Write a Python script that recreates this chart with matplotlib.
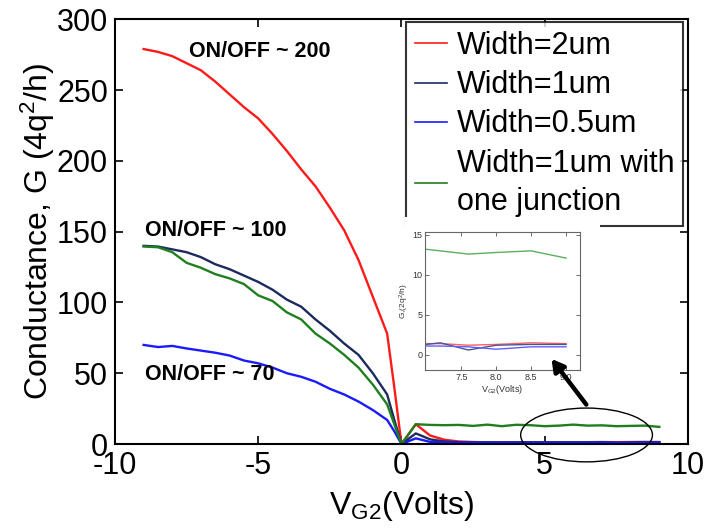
import numpy as np
import matplotlib.pyplot as plt
from matplotlib.patches import Ellipse, FancyArrowPatch

plt.rcParams['font.family'] = ['Liberation Sans', 'DejaVu Sans']
plt.rcParams['mathtext.fontset'] = 'custom'
plt.rcParams['mathtext.rm'] = 'Liberation Sans'
plt.rcParams['mathtext.it'] = 'Liberation Sans'
plt.rcParams['axes.unicode_minus'] = False

# gate voltage (V)
vg = [-9, -8.5, -8, -7.5, -7, -6.5, -6, -5.5, -5, -4.5, -4, -3.5, -3, -2.5,
      -2, -1.5, -1, -0.5, -0.25, 0, 0.5, 1, 1.5, 2, 2.5, 3, 3.5, 4, 4.5, 5,
      5.5, 6, 6.5, 7, 7.5, 8, 8.5, 9]

g_2um = [279, 277, 274, 269, 264, 256, 247, 238, 230, 219, 207, 194, 182, 167,
         151, 130, 104, 78, 40, 0, 14, 6, 3, 1.8, 1.4, 1.2, 1.2, 1.3, 1.3, 1.3,
         1.3, 1.3, 1.3, 1.4, 1.3, 1.4, 1.5, 1.4]
g_1um = [140, 139.5, 137.5, 135.5, 132, 127, 123.5, 119, 114.5, 109, 102, 97, 88, 80,
         71, 63, 50, 35, 17, 0, 7.5, 3.3, 1.8, 1.3, 1.2, 1.2, 1.1, 1.2, 1.2, 1.2,
         1.2, 1.2, 1.2, 1.3, 0.8, 1.2, 1.3, 1.3]
g_05um = [70, 68.5, 69.3, 67.5, 66, 64.5, 62.5, 59, 57, 54, 50, 47.5, 44, 39,
          35, 30, 24, 17, 9, 0, 4, 1.5, 1.1, 1.0, 1.0, 1.0, 1.0, 1.0, 1.0, 1.0,
          1.0, 1.0, 1.0, 1.1, 1.0, 0.8, 1.0, 1.0]
g_junc = [139.5, 139, 135.5, 128, 124.5, 120, 117, 113, 105, 101, 93, 88, 78, 71,
          63, 54, 42, 28, 14, 0, 14, 13.5, 13.3, 13.5, 12.8, 13.7, 12.6, 13.6, 13.3, 12.6,
          13.0, 13.7, 13.0, 13.2, 12.6, 12.8, 13.0, 12.1]

# inset data (G in 2q^2/h)
vg_in = [7.0, 7.2, 7.6, 8.0, 8.5, 9.0]
gin_2um = [1.4, 1.4, 1.2, 1.3, 1.5, 1.4]
gin_1um = [1.3, 1.5, 0.6, 1.2, 1.3, 1.3]
gin_05um = [1.1, 1.1, 1.0, 0.7, 1.0, 1.0]
gin_junc = [13.2, 13.0, 12.6, 12.8, 13.0, 12.1]

labels = ['Width=2um', 'Width=1um', 'Width=0.5um', 'Width=1um with\none junction']
colors = ['#ff1a1a', '#1c2a5e', '#1a1aff', '#1f7f1f']
colors_in = ['#ff6060', '#4a5590', '#6060ff', '#5cb05c']

fig = plt.figure(figsize=(7.08, 5.31), dpi=100)
ax = fig.add_axes([0.1624, 0.1638, 0.8093, 0.7998])

for g, c, lab in zip([g_2um, g_1um, g_05um, g_junc], colors, labels):
    ax.plot(vg, g, color=c, lw=1.7, label=lab)

ax.set_xlim(-10, 10)
ax.set_ylim(0, 300)
ax.set_xticks([-10, -5, 0, 5, 10])
ax.set_yticks([0, 50, 100, 150, 200, 250, 300])
ax.tick_params(direction='in', length=6, width=1.2, labelsize=22, pad=5,
               top=True, right=True)
for s in ax.spines.values():
    s.set_linewidth(1.5)
ax.set_xlabel('V$_{\\mathrm{G2}}$(Volts)', fontsize=23, labelpad=6)
ax.set_ylabel('Conductance, G (4q$^2$/h)', fontsize=23, labelpad=0)

ax.text(-7.4, 277, 'ON/OFF ~ 200', fontsize=15.5, fontweight='bold', va='center')
ax.text(-8.95, 151, 'ON/OFF ~ 100', fontsize=15.5, fontweight='bold', va='center')
ax.text(-8.95, 49, 'ON/OFF ~ 70', fontsize=15.5, fontweight='bold', va='center')

leg = ax.legend(loc='upper right', bbox_to_anchor=(0.992, 0.994), borderaxespad=0,
                fontsize=22, frameon=True, fancybox=False, handlelength=1.05,
                handletextpad=0.3, labelspacing=0.3, borderpad=0.3)
leg.get_frame().set_edgecolor('black')
leg.get_frame().set_linewidth(1.5)
for t in leg.get_texts():
    t.set_linespacing(1.35)
for line in leg.get_lines():
    line.set_linewidth(1.2)

ell = Ellipse((6.46, 6.4), 4.6, 38, fill=False, edgecolor='black', lw=1.0,
              clip_on=False, zorder=5)
ax.add_patch(ell)

# white backing behind inset (covers legend bottom)
bg = fig.add_axes([405 / 708, 1 - 400 / 531, 195 / 708, 183 / 531])
bg.set_facecolor('white')
bg.set_xticks([])
bg.set_yticks([])
for s in bg.spines.values():
    s.set_visible(False)

axin = fig.add_axes([425 / 708, 1 - 370 / 531, 155 / 708, 138.3 / 531])
for g, c in zip([gin_2um, gin_1um, gin_05um, gin_junc], colors_in):
    axin.plot(vg_in, g, color=c, lw=1.0)
axin.set_xlim(6.98, 9.2)
axin.set_ylim(-1.9, 15.4)
axin.set_xticks([7.5, 8, 8.5, 9])
axin.set_yticks([0, 5, 10, 15])
axin.tick_params(direction='in', length=3, width=0.6, labelsize=6.5, pad=2,
                 top=True, right=True, colors='#555555', labelcolor='#333333')
for s in axin.spines.values():
    s.set_linewidth(0.8)
    s.set_color('#666666')
axin.set_xlabel('V$_{\\mathrm{G2}}$(Volts)', fontsize=6.5, labelpad=1, color='#333333')
axin.set_ylabel('G,(2q$^2$/h)', fontsize=6, labelpad=1, color='#333333')

arrow = FancyArrowPatch((6.51, 26.3), (5.18, 61.7), transform=ax.transData,
                        arrowstyle='-|>,head_length=7,head_width=4',
                        color='black', lw=3.2, zorder=10)
fig.add_artist(arrow)

fig.savefig('out.png', dpi=100)
